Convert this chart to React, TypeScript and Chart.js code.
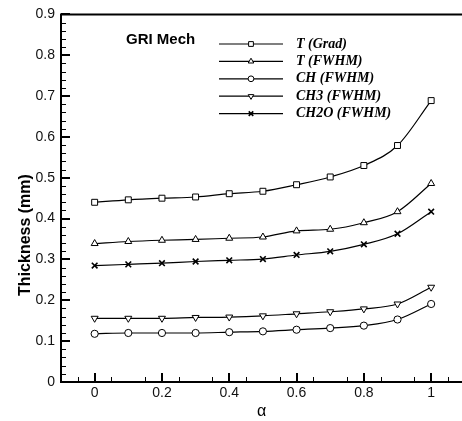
import React, { useEffect, useRef } from 'react';
import { Chart, registerables } from 'chart.js';
import { drawPoint } from 'chart.js/helpers';

Chart.register(...registerables);

const alpha = [0, 0.1, 0.2, 0.3, 0.4, 0.5, 0.6, 0.7, 0.8, 0.9, 1.0];
const tGrad = [0.440, 0.446, 0.450, 0.453, 0.461, 0.467, 0.483, 0.502, 0.530, 0.579, 0.689];
const tFwhm = [0.339, 0.344, 0.347, 0.349, 0.352, 0.355, 0.370, 0.374, 0.390, 0.417, 0.486];
const chFwhm = [0.118, 0.120, 0.120, 0.120, 0.122, 0.124, 0.128, 0.132, 0.138, 0.153, 0.191];
const ch3Fwhm = [0.156, 0.156, 0.156, 0.158, 0.159, 0.162, 0.167, 0.172, 0.179, 0.191, 0.232];
const ch2oFwhm = [0.285, 0.288, 0.291, 0.295, 0.298, 0.301, 0.311, 0.320, 0.337, 0.363, 0.417];

const seriesLabels = ['T (Grad)', 'T (FWHM)', 'CH (FWHM)', 'CH3 (FWHM)', 'CH2O (FWHM)'];
const seriesValues = [tGrad, tFwhm, chFwhm, ch3Fwhm, ch2oFwhm];
const pointStyles = ['rect', 'triangle', 'circle', 'triangle', 'crossRot'];
const pointRotations = [0, 0, 0, 180, 0];
const pointRadii = [4.2, 4, 3.6, 4, 4];
const pointBorderWidths = [1, 1, 1, 1, 1.6];

const xTickValues = [0, 0.2, 0.4, 0.6, 0.8, 1];
const xTickLabels = ['0', '0.2', '0.4', '0.6', '0.8', '1'];
const yTickValues = [0, 0.1, 0.2, 0.3, 0.4, 0.5, 0.6, 0.7, 0.8, 0.9];
const yTickLabels = ['0', '0.1', '0.2', '0.3', '0.4', '0.5', '0.6', '0.7', '0.8', '0.9'];

const legendTitle = 'GRI Mech';
const xTitle = 'α';
const yTitle = 'Thickness (mm)';

const framePlugin = {
  id: 'frame',
  afterDatasetsDraw(chart: any) {
    const { ctx, chartArea } = chart;
    const xs = chart.scales.x;
    const ys = chart.scales.y;
    const { left, right, top, bottom } = chartArea;
    const W = chart.width;
    ctx.save();
    ctx.strokeStyle = '#000';
    // minor ticks
    ctx.lineWidth = 1;
    ctx.beginPath();
    for (let v = -0.05; v < 1.09; v += 0.1) {
      const px = Math.round(xs.getPixelForValue(v)) + 0.5;
      if (px > W) continue;
      ctx.moveTo(px, bottom);
      ctx.lineTo(px, bottom - 5);
    }
    for (let k = 1; k < 45; k++) {
      if (k % 5 === 0) continue;
      const py = Math.round(ys.getPixelForValue(k * 0.02)) + 0.5;
      ctx.moveTo(left, py);
      ctx.lineTo(left + 5, py);
    }
    ctx.stroke();
    // major ticks
    ctx.lineWidth = 2;
    ctx.beginPath();
    xTickValues.forEach((v) => {
      const px = Math.round(xs.getPixelForValue(v));
      ctx.moveTo(px, bottom);
      ctx.lineTo(px, bottom - 9);
    });
    yTickValues.forEach((v) => {
      const py = Math.round(ys.getPixelForValue(v));
      ctx.moveTo(left, py);
      ctx.lineTo(left + 9, py);
    });
    ctx.stroke();
    // frame: left, bottom, top
    ctx.lineWidth = 2;
    ctx.beginPath();
    ctx.moveTo(W, top);
    ctx.lineTo(left, top);
    ctx.lineTo(left, bottom);
    ctx.lineTo(W, bottom);
    ctx.stroke();

    // axis titles
    ctx.fillStyle = '#000';
    ctx.font = 'bold 16px "Liberation Sans", Arial, sans-serif';
    ctx.textAlign = 'center';
    ctx.textBaseline = 'middle';
    ctx.save();
    ctx.translate(26, 235);
    ctx.rotate(-Math.PI / 2);
    ctx.fillText(yTitle, 0, 0);
    ctx.restore();
    ctx.font = '16px "Liberation Sans", Arial, sans-serif';
    ctx.fillText(xTitle, (left + W) / 2, 412);

    // legend
    ctx.font = 'bold 15px "Liberation Sans", Arial, sans-serif';
    ctx.textAlign = 'left';
    ctx.textBaseline = 'alphabetic';
    ctx.fillText(legendTitle, 126, 43.5);
    chart.data.datasets.forEach((ds: any, i: number) => {
      const y = 44 + i * 17.4;
      ctx.strokeStyle = '#000';
      ctx.lineWidth = 1.2;
      ctx.beginPath();
      ctx.moveTo(219, y);
      ctx.lineTo(283, y);
      ctx.stroke();
      ctx.fillStyle = '#fff';
      ctx.strokeStyle = '#000';
      ctx.lineWidth = ds.pointBorderWidth;
      drawPoint(ctx, {
        pointStyle: ds.pointStyle,
        rotation: ds.pointRotation,
        radius: ds.pointRadius * 0.8,
        borderWidth: ds.pointBorderWidth,
      } as any, 251, y);
      ctx.fillStyle = '#000';
      ctx.font = 'italic bold 14px "Liberation Serif", "Times New Roman", serif';
      ctx.textBaseline = 'middle';
      ctx.fillText(ds.label, 296, y);
    });
    ctx.restore();
  },
};

export default function App() {
  const ref = useRef<HTMLCanvasElement | null>(null);
  useEffect(() => {
    if (!ref.current) return;
    const chart = new Chart(ref.current, {
      type: 'line',
      data: {
        datasets: seriesLabels.map((label, i) => ({
          label,
          data: alpha.map((a, j) => ({ x: a, y: seriesValues[i][j] })),
          borderColor: '#000',
          borderWidth: 1.2,
          backgroundColor: '#fff',
          pointStyle: pointStyles[i] as any,
          pointRotation: pointRotations[i],
          pointRadius: pointRadii[i],
          pointBorderColor: '#000',
          pointBackgroundColor: '#fff',
          pointBorderWidth: pointBorderWidths[i],
          cubicInterpolationMode: 'monotone' as const,
          fill: false,
        })),
      },
      options: {
        responsive: false,
        animation: false,
        layout: { padding: { top: 12, left: 0, right: 0, bottom: 0 } },
        plugins: { legend: { display: false }, tooltip: { enabled: false } },
        scales: {
          x: {
            type: 'linear',
            min: -0.1,
            max: 1.075,
            grid: { display: false, drawTicks: false },
            border: { display: false },
            afterBuildTicks: (scale: any) => {
              scale.ticks = xTickValues.map((v) => ({ value: v }));
            },
            afterFit: (scale: any) => {
              scale.height = 39;
            },
            ticks: {
              padding: 3,
              color: '#111',
              font: { family: '"Liberation Sans", Arial, sans-serif', size: 14 },
              callback: (v: any) => {
                const idx = xTickValues.findIndex((t) => Math.abs(t - Number(v)) < 1e-9);
                return idx >= 0 ? xTickLabels[idx] : '';
              },
            },
          },
          y: {
            type: 'linear',
            min: 0,
            max: 0.9,
            grid: { display: false, drawTicks: false },
            border: { display: false },
            afterBuildTicks: (scale: any) => {
              scale.ticks = yTickValues.map((v) => ({ value: v }));
            },
            afterFit: (scale: any) => {
              scale.width = 61;
            },
            ticks: {
              padding: 6,
              color: '#111',
              font: { family: '"Liberation Sans", Arial, sans-serif', size: 14 },
              callback: (v: any) => {
                const idx = yTickValues.findIndex((t) => Math.abs(t - Number(v)) < 1e-9);
                return idx >= 0 ? yTickLabels[idx] : '';
              },
            },
          },
        },
      },
      plugins: [framePlugin],
    });
    return () => chart.destroy();
  }, []);
  return (
    <div style={{ position: 'fixed', left: 0, top: 0, width: 462, height: 421, background: '#fff' }}>
      <canvas ref={ref} width={462} height={421} style={{ display: 'block' }} />
    </div>
  );
}
